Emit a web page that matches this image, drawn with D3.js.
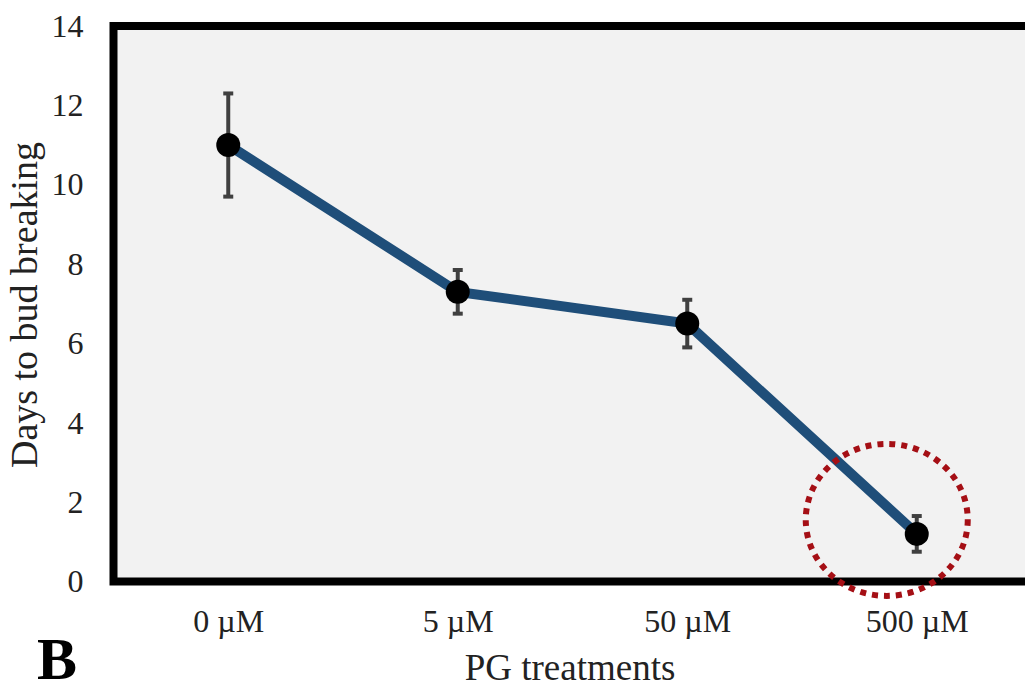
<!DOCTYPE html>
<html>
<head>
<meta charset="utf-8">
<script src="https://cdn.jsdelivr.net/npm/d3@7"></script>
<style>
  body { margin: 0; background: #fff; }
  svg { display: block; font-family: "Liberation Serif", "Times New Roman", serif; }
</style>
</head>
<body>
<svg width="1025" height="687"></svg>
<script>
// ************** Data *****************
const treatments = ["0 µM", "5 µM", "50 µM", "500 µM"];
const days = [11.0, 7.3, 6.5, 1.2];
const errors = [1.3, 0.55, 0.6, 0.45];
const yTicks = [0, 2, 4, 6, 8, 10, 12, 14];
const highlighted = "500 µM";

// *************** Graph Setup *****************
let svg = d3.select("svg");

const marginLeft = 113.5, marginTop = 26, plotW = 918, plotH = 555.5;

let xScale = d3.scalePoint()
    .domain(treatments)
    .range([0, plotW])
    .padding(0.5);

let yScale = d3.scaleLinear()
    .domain([0, 14])
    .range([plotH, 0]);

let chart = svg.append("g")
    .attr("transform", "translate(" + marginLeft + "," + marginTop + ")");

// plot background
chart.append("rect")
    .attr("width", plotW)
    .attr("height", plotH)
    .attr("fill", "#f2f2f2");

// y axis labels (no tick marks)
let yAxis = chart.append("g")
    .call(d3.axisLeft(yScale).tickValues(yTicks).tickSize(0).tickPadding(30));
yAxis.select(".domain").remove();
yAxis.selectAll("text")
    .attr("font-size", 32)
    .attr("font-family", "Liberation Serif")
    .attr("fill", "#222");

// x axis labels
let xAxis = chart.append("g")
    .attr("transform", "translate(0," + plotH + ")")
    .call(d3.axisBottom(xScale).tickSize(0).tickPadding(28));
xAxis.select(".domain").remove();
xAxis.selectAll("text")
    .attr("font-size", 32)
    .attr("font-family", "Liberation Serif")
    .attr("fill", "#222");

// frame: left, top, bottom
chart.append("path")
    .attr("d", "M" + plotW + ",0H0V" + plotH + "H" + plotW)
    .attr("fill", "none")
    .attr("stroke", "#000")
    .attr("stroke-width", 8);

// line
let line = d3.line()
    .x(function(d, i) { return xScale(treatments[i]); })
    .y(function(d) { return yScale(d); });

chart.append("path")
    .datum(days)
    .attr("d", line)
    .attr("fill", "none")
    .attr("stroke", "#1f4e79")
    .attr("stroke-width", 10);

// error bars
let eb = chart.selectAll(".err")
    .data(days)
    .enter().append("g")
    .attr("class", "err")
    .attr("stroke", "#404040")
    .attr("stroke-width", 4);

eb.append("line")
    .attr("x1", function(d, i) { return xScale(treatments[i]); })
    .attr("x2", function(d, i) { return xScale(treatments[i]); })
    .attr("y1", function(d, i) { return yScale(d + errors[i]); })
    .attr("y2", function(d, i) { return yScale(d - errors[i]); });

[1, -1].forEach(function(sgn) {
    eb.append("line")
        .attr("x1", function(d, i) { return xScale(treatments[i]) - 5; })
        .attr("x2", function(d, i) { return xScale(treatments[i]) + 5; })
        .attr("y1", function(d, i) { return yScale(d + sgn * errors[i]); })
        .attr("y2", function(d, i) { return yScale(d + sgn * errors[i]); });
});

// points
chart.selectAll(".pt")
    .data(days)
    .enter().append("circle")
    .attr("class", "pt")
    .attr("cx", function(d, i) { return xScale(treatments[i]); })
    .attr("cy", function(d) { return yScale(d); })
    .attr("r", 12)
    .attr("fill", "#000");

// red dotted highlight around the last point
let hi = treatments.indexOf(highlighted);
chart.append("ellipse")
    .attr("cx", xScale(highlighted) - 30)
    .attr("cy", yScale(days[hi]) - 14)
    .attr("rx", 81)
    .attr("ry", 76)
    .attr("fill", "none")
    .attr("stroke", "#a50f15")
    .attr("stroke-width", 6)
    .attr("stroke-dasharray", "6 6");

// axis titles
svg.append("text")
    .attr("transform", "translate(37,305) rotate(-90)")
    .attr("text-anchor", "middle")
    .attr("font-size", 38)
    .attr("fill", "#222")
    .text("Days to bud breaking");

svg.append("text")
    .attr("x", 570)
    .attr("y", 680)
    .attr("text-anchor", "middle")
    .attr("font-size", 37)
    .attr("fill", "#222")
    .text("PG treatments");

svg.append("text")
    .attr("x", 37)
    .attr("y", 679)
    .attr("font-size", 60)
    .attr("font-weight", "bold")
    .attr("fill", "#000")
    .text("B");
</script>
</body>
</html>
